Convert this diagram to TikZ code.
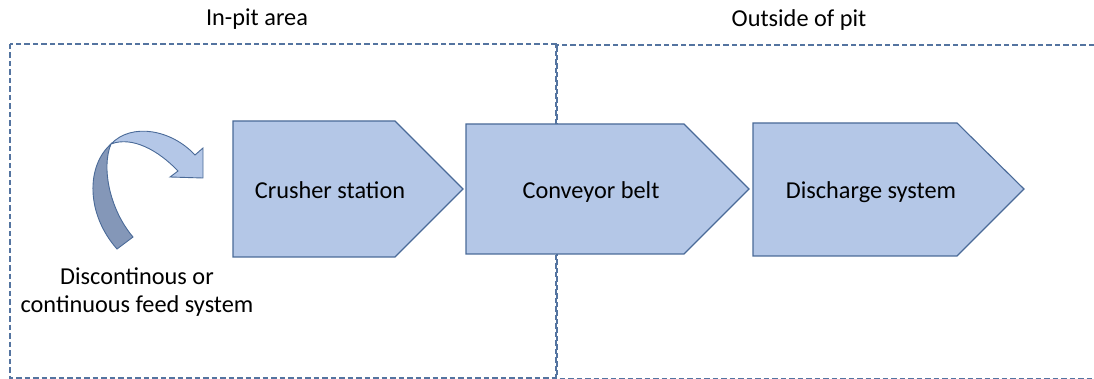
\documentclass[tikz,border=0pt]{standalone}
\usepackage{fontspec}
\setmainfont{Carlito}
\definecolor{stagefill}{HTML}{B4C7E7}
\definecolor{stageline}{HTML}{4A6A98}
\definecolor{backfill}{HTML}{8497B8}
\definecolor{zoneline}{HTML}{5474A0}
\begin{document}
\begin{tikzpicture}[x=1pt,y=-1pt,
  stage/.style={fill=stagefill,draw=stageline,line width=1.1pt,line join=miter},
  zone/.style={draw=zoneline,line width=1.1pt,dash pattern=on 5.5pt off 3pt},
  lbl/.style={font=\fontsize{24.3}{28}\selectfont,text=black,inner sep=0pt,anchor=base}]
\useasboundingbox (0,0) rectangle (1094,379);

% zones: in-pit area and outside of pit
\draw[zone] (10,44) rectangle (557,378);
\draw[zone] (1094,45) -- (556,45) -- (556,379) -- (1094,379);
\node[lbl] (inpit) at (257,26) {In-pit area};
\node[lbl] (outside) at (799,27) {Outside of pit};

% process stages (pentagon arrows)
\draw[stage] (233,121) -- (395,121) -- (463,189) -- (395,257) -- (233,257) -- cycle;
\node[lbl] (crusher) at (330,199) {Crusher station};
\draw[stage] (466,124) -- (684,124) -- (749,189) -- (684,254) -- (466,254) -- cycle;
\node[lbl] (conveyor) at (591,199) {Conveyor belt};
\draw[stage] (753,123) -- (957,123) -- (1024,189) -- (957,256) -- (753,256) -- cycle;
\node[lbl] (discharge) at (871,199) {Discharge system};

% curved feed arrow: back face of the ribbon
\draw[stage,fill=backfill,line width=0.9pt]
  (111,144) .. controls (86,166) and (86,214) .. (117,249)
  -- (133,237) .. controls (110,210) and (101,168) .. (111,144) -- cycle;
% front face with arrowhead
\draw[stage,line width=0.9pt]
  (111,144) .. controls (132,122) and (172,130) .. (195,155)
  -- (203,148) -- (203,178) -- (170,177) -- (178,171)
  .. controls (158,150) and (132,136) .. (111,144) -- cycle;
\node[lbl] (feed1) at (137,284) {Discontinous or};
\node[lbl] (feed2) at (137,312) {continuous feed system};
\end{tikzpicture}
\end{document}
